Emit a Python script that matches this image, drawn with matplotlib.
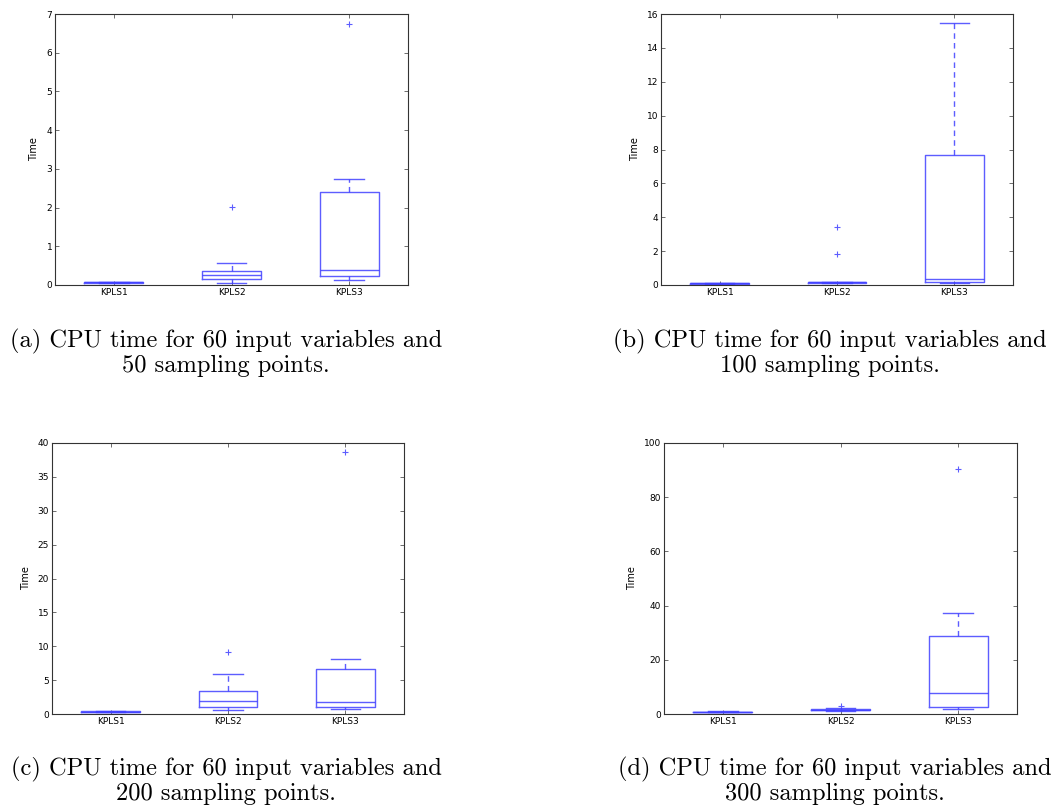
import matplotlib
matplotlib.use('Agg')
import matplotlib.pyplot as plt

labels = ['KPLS1', 'KPLS2', 'KPLS3']

# box statistics: one entry per method
med_a = [0.07, 0.25, 0.40]
q1_a = [0.06, 0.15, 0.23]
q3_a = [0.08, 0.37, 2.39]
lo_a = [0.05, 0.06, 0.13]
hi_a = [0.09, 0.58, 2.73]
fl_a = [[], [2.01], [6.74]]

med_b = [0.10, 0.15, 0.33]
q1_b = [0.08, 0.12, 0.20]
q3_b = [0.12, 0.18, 7.65]
lo_b = [0.07, 0.10, 0.14]
hi_b = [0.13, 0.20, 15.47]
fl_b = [[], [1.81, 3.41], []]

med_c = [0.35, 1.97, 1.72]
q1_c = [0.30, 1.08, 1.08]
q3_c = [0.40, 3.34, 6.68]
lo_c = [0.25, 0.54, 0.79]
hi_c = [0.45, 5.85, 8.06]
fl_c = [[], [9.19], [38.6]]

med_d = [0.8, 1.6, 7.86]
q1_d = [0.7, 1.3, 2.58]
q3_d = [0.9, 1.9, 28.7]
lo_d = [0.6, 1.0, 1.97]
hi_d = [1.0, 2.3, 37.1]
fl_d = [[], [3.1], [90.5]]

ymax = [7, 16, 40, 100]

captions = ['(a) CPU time for 60 input variables and\n50 sampling points.',
            '(b) CPU time for 60 input variables and\n100 sampling points.',
            '(c) CPU time for 60 input variables and\n200 sampling points.',
            '(d) CPU time for 60 input variables and\n300 sampling points.']

panels = [(med_a, q1_a, q3_a, lo_a, hi_a, fl_a),
          (med_b, q1_b, q3_b, lo_b, hi_b, fl_b),
          (med_c, q1_c, q3_c, lo_c, hi_c, fl_c),
          (med_d, q1_d, q3_d, lo_d, hi_d, fl_d)]

W, H = 1056, 807
fig = plt.figure(figsize=(W / 100, H / 100), dpi=100)

# axes boxes in pixels: left, top, right, bottom
boxes = [(55, 14, 408, 285), (661, 14, 1013, 285),
         (52, 443, 404, 714), (664, 443, 1017, 714)]
cap_pos = [(226, 329), (830, 329), (226, 757), (835, 757)]

col = (0.25, 0.25, 1.0, 0.85)

for i, (st, bx) in enumerate(zip(panels, boxes)):
    l, t, r, b = bx
    ax = fig.add_axes([l / W, 1 - b / H, (r - l) / W, (b - t) / H])
    med, q1, q3, lo, hi, fl = st
    stats = []
    for k in range(3):
        stats.append(dict(med=med[k], q1=q1[k], q3=q3[k], whislo=lo[k],
                          whishi=hi[k], fliers=fl[k], label=labels[k]))
    ax.bxp(stats, positions=[1, 2, 3], widths=0.5, capwidths=0.25,
           boxprops=dict(color=col, lw=1),
           whiskerprops=dict(color=col, lw=1, ls='--', dashes=(4, 3)),
           capprops=dict(color=col, lw=1),
           medianprops=dict(color=col, lw=1),
           flierprops=dict(marker='+', markeredgecolor=col, markersize=5,
                           markeredgewidth=0.8, linestyle='none'))
    ax.set_xlim(0.5, 3.5)
    ax.set_ylim(0, ymax[i])
    ax.set_ylabel('Time', fontsize=7, labelpad=5)
    ax.tick_params(direction='in', top=True, right=True, length=3,
                   width=0.6, color='#555555', labelsize=6.5, pad=2)
    for s in ax.spines.values():
        s.set_color('#333333')
        s.set_linewidth(0.8)
    cx, cy = cap_pos[i]
    fig.text(cx / W, 1 - cy / H, captions[i], ha='center', va='top',
             multialignment='center', fontsize=17.6, family='cmr10',
             linespacing=1.02)

fig.savefig('out.png', dpi=100)
